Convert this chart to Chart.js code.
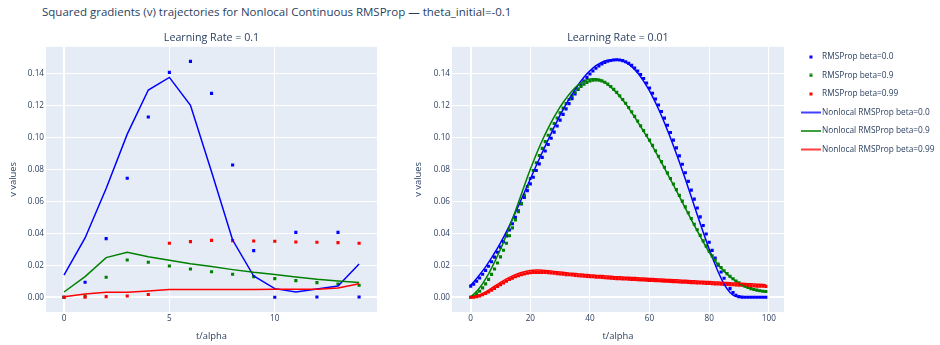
<!DOCTYPE html>
<html>
<head>
<meta charset="utf-8">
<script src="https://cdn.jsdelivr.net/npm/chart.js@4"></script>
<style>
  body { margin: 0; background: #fff; }
  #page { position: relative; width: 940px; height: 345px; overflow: hidden; font-family: "Open Sans", sans-serif; }
  #suptitle { position: absolute; left: 42px; top: 4px; font-size: 11.5px; color: #2a3f5f; white-space: nowrap; }
  .panel { position: absolute; top: 0; height: 345px; }
</style>
</head>
<body>
<div id="page">
  <div id="suptitle">Squared gradients (v) trajectories for Nonlocal Continuous RMSProp — theta_initial=-0.1</div>
  <div class="panel" style="left:0;width:400px"><canvas id="chartLr01" width="400" height="345"></canvas></div>
  <div class="panel" style="left:400px;width:540px"><canvas id="chartLr001" width="540" height="345"></canvas></div>
</div>
<script>
// ---- data: learning rate 0.1 (15 steps) ----
const stepsLr01 = [0, 1, 2, 3, 4, 5, 6, 7, 8, 9, 10, 11, 12, 13, 14];
const rms00Lr01 = [0.0000, 0.0094, 0.0367, 0.0744, 0.1127, 0.1406, 0.1475, 0.1275, 0.0827, 0.0292, 0.0000, 0.0406, 0.0002, 0.0406, 0.0002];
const rms09Lr01 = [0.0000, 0.0008, 0.0125, 0.0233, 0.0219, 0.0196, 0.0177, 0.0160, 0.0144, 0.0129, 0.0117, 0.0104, 0.0092, 0.0083, 0.0075];
const rms099Lr01 = [0.0000, 0.0001, 0.0004, 0.0008, 0.0017, 0.0338, 0.0348, 0.0356, 0.0354, 0.0352, 0.0350, 0.0346, 0.0344, 0.0342, 0.0338];
const nl00Lr01 = [0.0138, 0.0371, 0.0680, 0.1020, 0.1296, 0.1375, 0.1200, 0.0785, 0.0358, 0.0133, 0.0054, 0.0033, 0.0052, 0.0071, 0.0208];
const nl09Lr01 = [0.0033, 0.0129, 0.0248, 0.0281, 0.0254, 0.0231, 0.0210, 0.0192, 0.0173, 0.0156, 0.0142, 0.0127, 0.0113, 0.0102, 0.0092];
const nl099Lr01 = [0.0004, 0.0021, 0.0031, 0.0031, 0.0040, 0.0048, 0.0048, 0.0048, 0.0048, 0.0049, 0.0050, 0.0050, 0.0051, 0.0058, 0.0085];

// ---- data: learning rate 0.01 (100 steps) ----
const stepsLr001 = Array.from({length: 100}, (_, i) => i);
const rms00Lr001 = [
  0.0070, 0.0082, 0.0100, 0.0121, 0.0144, 0.0168, 0.0194, 0.0222, 0.0251, 0.0282,
  0.0314, 0.0348, 0.0384, 0.0421, 0.0460, 0.0500, 0.0541, 0.0583, 0.0625, 0.0667,
  0.0709, 0.0751, 0.0793, 0.0834, 0.0875, 0.0915, 0.0955, 0.0994, 0.1033, 0.1071,
  0.1108, 0.1144, 0.1178, 0.1211, 0.1242, 0.1272, 0.1300, 0.1327, 0.1352, 0.1375,
  0.1396, 0.1415, 0.1432, 0.1447, 0.1459, 0.1469, 0.1476, 0.1481, 0.1484, 0.1485,
  0.1484, 0.1480, 0.1473, 0.1463, 0.1450, 0.1434, 0.1415, 0.1393, 0.1368, 0.1340,
  0.1309, 0.1276, 0.1240, 0.1202, 0.1162, 0.1120, 0.1076, 0.1030, 0.0983, 0.0934,
  0.0884, 0.0832, 0.0779, 0.0725, 0.0670, 0.0614, 0.0558, 0.0503, 0.0449, 0.0396,
  0.0344, 0.0293, 0.0245, 0.0200, 0.0158, 0.0119, 0.0084, 0.0054, 0.0030, 0.0013,
  0.0004, 0.0001, 0.0000, 0.0000, 0.0000, 0.0000, 0.0000, 0.0000, 0.0000, 0.0000];
const rms09Lr001 = [
  0.0000, 0.0008, 0.0021, 0.0038, 0.0059, 0.0084, 0.0112, 0.0143, 0.0177, 0.0214,
  0.0253, 0.0294, 0.0338, 0.0385, 0.0434, 0.0484, 0.0535, 0.0587, 0.0640, 0.0692,
  0.0743, 0.0793, 0.0841, 0.0887, 0.0931, 0.0973, 0.1013, 0.1051, 0.1087, 0.1121,
  0.1153, 0.1183, 0.1211, 0.1237, 0.1261, 0.1283, 0.1302, 0.1319, 0.1333, 0.1344,
  0.1352, 0.1357, 0.1359, 0.1358, 0.1353, 0.1345, 0.1333, 0.1318, 0.1300, 0.1281,
  0.1260, 0.1237, 0.1213, 0.1187, 0.1160, 0.1131, 0.1102, 0.1073, 0.1043, 0.1013,
  0.0983, 0.0950, 0.0916, 0.0882, 0.0848, 0.0813, 0.0778, 0.0743, 0.0708, 0.0673,
  0.0637, 0.0601, 0.0565, 0.0529, 0.0493, 0.0457, 0.0422, 0.0387, 0.0353, 0.0320,
  0.0288, 0.0259, 0.0232, 0.0208, 0.0186, 0.0166, 0.0148, 0.0131, 0.0116, 0.0102,
  0.0090, 0.0079, 0.0069, 0.0061, 0.0054, 0.0049, 0.0045, 0.0041, 0.0038, 0.0036];
const rms099Lr001 = [
  0.0000, 0.0001, 0.0004, 0.0009, 0.0016, 0.0024, 0.0034, 0.0045, 0.0056, 0.0068,
  0.0079, 0.0090, 0.0101, 0.0111, 0.0120, 0.0128, 0.0135, 0.0141, 0.0146, 0.0150,
  0.0153, 0.0155, 0.0156, 0.0156, 0.0156, 0.0155, 0.0154, 0.0152, 0.0150, 0.0148,
  0.0146, 0.0144, 0.0142, 0.0141, 0.0139, 0.0137, 0.0135, 0.0134, 0.0132, 0.0131,
  0.0129, 0.0128, 0.0126, 0.0125, 0.0124, 0.0122, 0.0121, 0.0120, 0.0118, 0.0117,
  0.0116, 0.0115, 0.0114, 0.0113, 0.0112, 0.0111, 0.0110, 0.0109, 0.0108, 0.0107,
  0.0106, 0.0105, 0.0104, 0.0103, 0.0102, 0.0101, 0.0100, 0.0099, 0.0098, 0.0097,
  0.0096, 0.0095, 0.0094, 0.0093, 0.0092, 0.0091, 0.0090, 0.0089, 0.0088, 0.0087,
  0.0086, 0.0085, 0.0084, 0.0083, 0.0082, 0.0081, 0.0080, 0.0079, 0.0078, 0.0077,
  0.0076, 0.0075, 0.0074, 0.0073, 0.0072, 0.0071, 0.0070, 0.0070, 0.0069, 0.0068];
const nl00Lr001 = [
  0.0075, 0.0096, 0.0118, 0.0141, 0.0165, 0.0190, 0.0218, 0.0247, 0.0277, 0.0308,
  0.0340, 0.0375, 0.0411, 0.0449, 0.0489, 0.0530, 0.0571, 0.0613, 0.0655, 0.0697,
  0.0740, 0.0782, 0.0824, 0.0865, 0.0905, 0.0945, 0.0985, 0.1025, 0.1064, 0.1102,
  0.1139, 0.1174, 0.1207, 0.1239, 0.1269, 0.1298, 0.1326, 0.1352, 0.1376, 0.1397,
  0.1416, 0.1433, 0.1448, 0.1460, 0.1470, 0.1477, 0.1482, 0.1485, 0.1487, 0.1487,
  0.1484, 0.1478, 0.1469, 0.1457, 0.1442, 0.1424, 0.1403, 0.1379, 0.1352, 0.1322,
  0.1290, 0.1255, 0.1217, 0.1177, 0.1135, 0.1091, 0.1045, 0.0997, 0.0948, 0.0898,
  0.0846, 0.0793, 0.0739, 0.0684, 0.0628, 0.0572, 0.0516, 0.0461, 0.0407, 0.0354,
  0.0302, 0.0252, 0.0205, 0.0160, 0.0119, 0.0083, 0.0053, 0.0030, 0.0014, 0.0005,
  0.0001, 0.0000, 0.0000, 0.0000, 0.0000, 0.0000, 0.0000, 0.0000, 0.0000, 0.0000];
const nl09Lr001 = [
  0.0005, 0.0019, 0.0037, 0.0059, 0.0085, 0.0115, 0.0147, 0.0182, 0.0220, 0.0260,
  0.0300, 0.0344, 0.0391, 0.0440, 0.0490, 0.0540, 0.0592, 0.0645, 0.0698, 0.0750,
  0.0800, 0.0848, 0.0894, 0.0938, 0.0980, 0.1020, 0.1058, 0.1094, 0.1128, 0.1160,
  0.1190, 0.1218, 0.1244, 0.1268, 0.1290, 0.1310, 0.1327, 0.1341, 0.1352, 0.1360,
  0.1365, 0.1367, 0.1366, 0.1362, 0.1354, 0.1343, 0.1330, 0.1314, 0.1296, 0.1277,
  0.1256, 0.1233, 0.1209, 0.1183, 0.1155, 0.1126, 0.1097, 0.1068, 0.1038, 0.1008,
  0.0978, 0.0944, 0.0910, 0.0876, 0.0842, 0.0807, 0.0772, 0.0737, 0.0702, 0.0667,
  0.0630, 0.0594, 0.0558, 0.0522, 0.0486, 0.0450, 0.0415, 0.0380, 0.0346, 0.0313,
  0.0281, 0.0252, 0.0226, 0.0203, 0.0182, 0.0163, 0.0145, 0.0128, 0.0113, 0.0099,
  0.0087, 0.0076, 0.0067, 0.0059, 0.0053, 0.0048, 0.0044, 0.0040, 0.0037, 0.0035];
const nl099Lr001 = [
  0.0000, 0.0003, 0.0008, 0.0015, 0.0024, 0.0034, 0.0045, 0.0057, 0.0069, 0.0081,
  0.0093, 0.0104, 0.0115, 0.0125, 0.0134, 0.0142, 0.0149, 0.0155, 0.0160, 0.0164,
  0.0167, 0.0169, 0.0170, 0.0170, 0.0169, 0.0168, 0.0166, 0.0164, 0.0162, 0.0160,
  0.0158, 0.0156, 0.0154, 0.0152, 0.0151, 0.0149, 0.0147, 0.0146, 0.0144, 0.0143,
  0.0141, 0.0140, 0.0138, 0.0137, 0.0136, 0.0134, 0.0133, 0.0132, 0.0130, 0.0129,
  0.0128, 0.0127, 0.0126, 0.0125, 0.0124, 0.0123, 0.0122, 0.0121, 0.0120, 0.0119,
  0.0118, 0.0117, 0.0116, 0.0115, 0.0114, 0.0113, 0.0112, 0.0111, 0.0110, 0.0109,
  0.0108, 0.0107, 0.0106, 0.0105, 0.0104, 0.0103, 0.0102, 0.0101, 0.0100, 0.0099,
  0.0098, 0.0097, 0.0096, 0.0095, 0.0094, 0.0093, 0.0092, 0.0091, 0.0090, 0.0089,
  0.0088, 0.0087, 0.0086, 0.0085, 0.0084, 0.0083, 0.0082, 0.0081, 0.0080, 0.0079];

const seriesNames = ['RMSProp beta=0.0', 'RMSProp beta=0.9', 'RMSProp beta=0.99',
  'Nonlocal RMSProp beta=0.0', 'Nonlocal RMSProp beta=0.9', 'Nonlocal RMSProp beta=0.99'];
const seriesColors = ['#0000ff', '#008000', '#ff0000', '#0000ff', '#008000', '#ff0000'];

const TEXT = '#2a3f5f';
Chart.defaults.font.family = '"Open Sans", sans-serif';
Chart.defaults.color = TEXT;

function toPoints(xs, ys) {
    return ys.map((v, i) => ({x: xs[i], y: v}));
}

function buildDatasets(xs, valueLists) {
    return valueLists.map((values, i) => {
        const isLine = i >= 3;
        return {
            label: seriesNames[i],
            data: toPoints(xs, values),
            order: 6 - i, // later traces on top, like the original
            showLine: isLine,
            borderColor: seriesColors[i],
            backgroundColor: seriesColors[i],
            borderWidth: isLine ? 1.5 : 0,
            pointRadius: isLine ? 0 : 2.2,
            pointStyle: isLine ? 'line' : 'rect',
            tension: 0,
            fill: false
        };
    });
}

// plot area background
const plotBackground = {
    id: 'plotBackground',
    beforeDraw(chart) {
        const {ctx, chartArea} = chart;
        ctx.save();
        ctx.fillStyle = '#e5ecf6';
        ctx.fillRect(chartArea.left, chartArea.top, chartArea.right - chartArea.left, chartArea.bottom - chartArea.top);
        ctx.restore();
    }
};

function gridWidth(ctx) {
    return ctx.tick && ctx.tick.value === 0 ? 2 : 1;
}

function makeScales(xMin, xMax, xStep, yTitlePad, yWidth) {
    return {
        x: {
            type: 'linear',
            min: xMin,
            max: xMax,
            afterFit(scale) { scale.height = 33; },
            border: {display: false},
            grid: {color: '#ffffff', lineWidth: gridWidth, drawTicks: false},
            ticks: {stepSize: xStep, includeBounds: false, padding: 2, maxRotation: 0, color: TEXT, font: {size: 8.2}},
            title: {display: true, text: 't/alpha', color: TEXT, font: {size: 9.4}, padding: {top: 0, bottom: 2.7}}
        },
        y: {
            min: -0.0092,
            max: 0.1566,
            afterFit(scale) { scale.width = yWidth; },
            border: {display: false},
            grid: {color: '#ffffff', lineWidth: gridWidth, drawTicks: false},
            ticks: {stepSize: 0.02, includeBounds: false, padding: 2, color: TEXT, font: {size: 8.2},
                callback: v => v.toFixed(2)},
            title: {display: true, text: 'v values', color: TEXT, font: {size: 9.4}, padding: {top: yTitlePad, bottom: 0}}
        }
    };
}

function subplotTitle(text) {
    return {display: true, text: text, fullSize: false, color: TEXT,
        font: {size: 10.7, weight: 'normal'}, padding: {top: 32, bottom: 2}};
}

new Chart(document.getElementById('chartLr01'), {
    type: 'scatter',
    data: {datasets: buildDatasets(stepsLr01, [rms00Lr01, rms09Lr01, rms099Lr01, nl00Lr01, nl09Lr01, nl099Lr01])},
    options: {
        responsive: false,
        animation: false,
        events: [],
        layout: {padding: {left: 0, right: 23, top: 0, bottom: 0}},
        scales: makeScales(-0.854, 14.85, 5, 7.4, 46),
        plugins: {
            legend: {display: false},
            tooltip: {enabled: false},
            title: subplotTitle('Learning Rate = 0.1')
        }
    },
    plugins: [plotBackground]
});

// small icons for the legend: a dot for marker traces, a short line for line traces
function legendIcon(index) {
    const c = document.createElement('canvas');
    const g = c.getContext('2d');
    if (index < 3) {
        c.width = 4; c.height = 4;
        g.fillStyle = seriesColors[index];
        g.fillRect(0.5, 0.5, 3, 3);
    } else {
        c.width = 20; c.height = 4;
        g.strokeStyle = seriesColors[index];
        g.lineWidth = 1.5;
        g.beginPath();
        g.moveTo(0, 2);
        g.lineTo(20, 2);
        g.stroke();
    }
    return c;
}

const legendPlacement = {
    id: 'legendPlacement',
    beforeLayout(chart) {
        const legend = chart.legend;
        if (legend && !legend._fixedFit) {
            const fit = legend.fit;
            legend.fit = function () { fit.call(this); this.width = 146; };
            legend._fixedFit = true;
        }
    },
    afterLayout(chart) {
        const legend = chart.legend;
        legend.left = 393.7;
        legend.right = chart.width;
        legend.width = legend.right - legend.left;
        legend.top = 42.6;
    }
};

new Chart(document.getElementById('chartLr001'), {
    type: 'scatter',
    data: {datasets: buildDatasets(stepsLr001, [rms00Lr001, rms09Lr001, rms099Lr001, nl00Lr001, nl09Lr001, nl099Lr001])},
    options: {
        responsive: false,
        animation: false,
        events: [],
        layout: {padding: {left: 0, right: 10, top: 0, bottom: 0}},
        scales: makeScales(-6.27, 105.1, 20, 12.4, 52),
        plugins: {
            tooltip: {enabled: false},
            title: subplotTitle('Learning Rate = 0.01'),
            legend: {
                position: 'right',
                align: 'start',
                fullSize: false,
                labels: {
                    usePointStyle: true,
                    pointStyleWidth: 14,
                    padding: 10.2,
                    color: TEXT,
                    font: {size: 8.3},
                    sort: (a, b) => a.datasetIndex - b.datasetIndex,
                    generateLabels(chart) {
                        const items = Chart.defaults.plugins.legend.labels.generateLabels(chart);
                        items.forEach(item => { item.pointStyle = legendIcon(item.datasetIndex); });
                        return items;
                    }
                }
            }
        }
    },
    plugins: [plotBackground, legendPlacement]
});
</script>
</body>
</html>
